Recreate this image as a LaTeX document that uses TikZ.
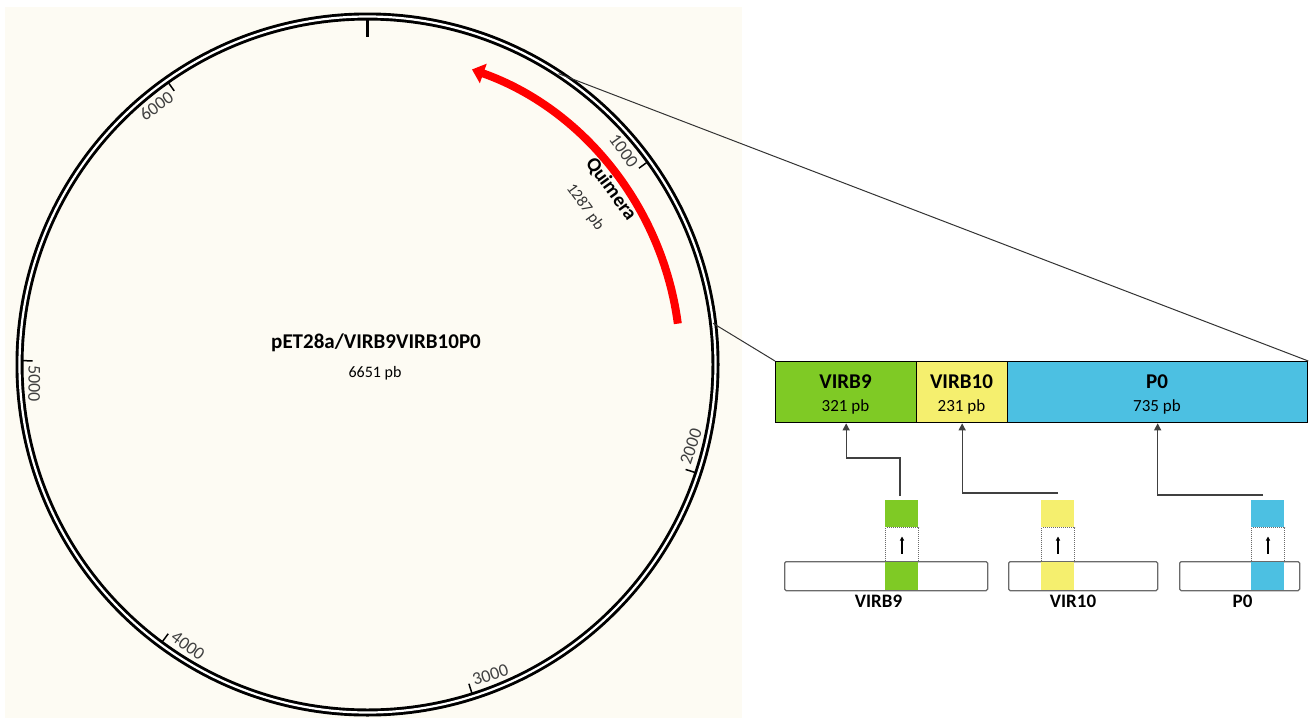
\documentclass[tikz,border=0pt]{standalone}
\usepackage{fontspec}
\setmainfont{Carlito}
\usetikzlibrary{arrows.meta,calc}
\definecolor{cream}{HTML}{FDFBF3}
\definecolor{vgreen}{HTML}{7FCA25}
\definecolor{vyellow}{HTML}{F5EF6E}
\definecolor{vblue}{HTML}{4CC0E2}
\definecolor{ticklbl}{HTML}{404040}
\definecolor{rectgray}{HTML}{6A6A6A}
\begin{document}
\begin{tikzpicture}[x=1pt,y=1pt,
  seg/.style={draw=black,line width=1.3pt,minimum height=61pt,inner sep=0pt,anchor=north west},
  segtxt/.style={font=\fontsize{21}{24}\selectfont\bfseries},
  segsub/.style={font=\fontsize{17}{20}\selectfont},
  ticktxt/.style={font=\fontsize{18}{20}\selectfont,text=ticklbl,inner sep=0pt},
  longrect/.style={draw=rectgray,fill=white,line width=1.3pt,rounded corners=1.5pt,minimum height=29pt,inner sep=0pt,anchor=north west},
  colpart/.style={inner sep=0pt,minimum width=33pt,anchor=north west},
  dotbox/.style={draw=rectgray,densely dotted,line width=1pt,minimum width=33pt,minimum height=34pt,inner sep=0pt,anchor=north west},
  conn/.style={line width=1.2pt,draw=black!75,-{Triangle[length=7pt,width=7pt]}},
  smallarr/.style={line width=1.2pt,-{Triangle[length=4pt,width=4pt]}},
  grplbl/.style={font=\fontsize{19}{21}\selectfont\bfseries},
  zoomline/.style={line width=1pt,draw=black!80}]
\useasboundingbox (0,0) rectangle (1312,-720);
\fill[white] (0,0) rectangle (1312,-720);
\fill[cream] (5,-7) rectangle (742,-718);
\coordinate (C) at (367.5,-364.5);
% plasmid ring
\draw[line width=8pt] (C) circle[radius=348];
\draw[white,line width=2.2pt] (C) circle[radius=348];
% top tick
\draw[line width=2.5pt] ($(C)+(90:345)$) -- ($(C)+(90:328)$);
% ticks and labels
\foreach \p in {1000,2000,3000,4000,5000,6000}{
  \pgfmathsetmacro\ph{90-\p/6651*360}
  \draw[line width=1.5pt] ($(C)+(\ph:345)$) -- ($(C)+(\ph:335)$);
}
\foreach \p in {1000,6000}{
  \pgfmathsetmacro\ph{90-\p/6651*360}
  \pgfmathsetmacro\rt{\ph-90}
  \node[ticktxt,rotate=\rt,anchor=east] (t\p) at ($(C)+(\ph+0.8:333)$) {\p};
}
\foreach \p in {2000,3000,4000,5000}{
  \pgfmathsetmacro\ph{90-\p/6651*360}
  \pgfmathsetmacro\rt{\ph+90}
  \node[ticktxt,rotate=\rt,anchor=west] (t\p) at ($(C)+(\ph+0.8:333)$) {\p};
}
% chimera arrow
\draw[red,line width=8pt,-{Triangle[length=12pt,width=20pt]}] ($(C)+(7.5:313)$) arc[start angle=7.5,end angle=70.5,radius=313];
\node[rotate=-54,font=\fontsize{20}{22}\selectfont\bfseries,inner sep=0pt] (quim) at (611,-189) {Quimera};
\node[rotate=-54,font=\fontsize{16}{18}\selectfont,text=black!80,inner sep=0pt] (qlen) at (585,-207) {1287 pb};
% title
\node[font=\fontsize{21}{24}\selectfont\bfseries] (title) at (376,-343) {pET28a/VIRB9VIRB10P0};
\node[font=\fontsize{16}{18}\selectfont] (size) at (375,-373) {6651 pb};
% construct bar
\node[seg,fill=vgreen,minimum width=141pt] (b9) at (775,-361) {};
\node[seg,fill=vyellow,minimum width=91pt] (b10) at (916,-361) {};
\node[seg,fill=vblue,minimum width=300pt] (bp0) at (1007,-361) {};
\node[segtxt] (l9) at (845.5,-382) {VIRB9};
\node[segsub] (n9) at (845.5,-407) {321 pb};
\node[segtxt] (l10) at (961.5,-382) {VIRB10};
\node[segsub] (n10) at (961.5,-407) {231 pb};
\node[segtxt] (lp0) at (1157,-382) {P0};
\node[segsub] (np0) at (1157,-407) {735 pb};
% zoom lines
\draw[zoomline] ($(C)+(56.7:348)$) -- (bp0.north east);
\draw[zoomline] ($(C)+(6.8:348)$) -- (b9.north west);
% group VIRB9
\node[longrect,minimum width=203pt] (r9) at (784,-561) {};
\node[colpart,fill=vgreen,minimum height=27.7pt] (g9b) at (885,-561.65) {};
\node[dotbox] (d9) at (885,-527) {};
\node[colpart,fill=vgreen,minimum height=27pt] (g9t) at (885,-500) {};
\draw[smallarr] ($(d9.center)+(0,-9)$) -- ($(d9.center)+(0,8)$);
\node[grplbl] (gl9) at (878.5,-601) {VIRB9};
% group VIR10
\node[longrect,minimum width=149pt] (r10) at (1008,-561) {};
\node[colpart,fill=vyellow,minimum height=27.7pt] (g10b) at (1041,-561.65) {};
\node[dotbox] (d10) at (1041,-527) {};
\node[colpart,fill=vyellow,minimum height=27pt] (g10t) at (1041,-500) {};
\draw[smallarr] ($(d10.center)+(0,-9)$) -- ($(d10.center)+(0,8)$);
\node[grplbl] (gl10) at (1073,-601) {VIR10};
% group P0
\node[longrect,minimum width=120pt] (rp0) at (1179,-561) {};
\node[colpart,fill=vblue,minimum height=27.7pt] (gp0b) at (1251,-561.65) {};
\node[dotbox] (dp0) at (1251,-527) {};
\node[colpart,fill=vblue,minimum height=27pt] (gp0t) at (1251,-500) {};
\draw[smallarr] ($(dp0.center)+(0,-9)$) -- ($(dp0.center)+(0,8)$);
\node[grplbl] (glp0) at (1242.5,-601) {P0};
% connectors
\coordinate (c9) at (900,-496);
\coordinate (c10) at (1058,-493);
\coordinate (cp0) at (1263,-495);
\draw[conn] (c9) -- ++(0,38) -| (b9.south);
\draw[conn] (c10) -| (b10.south);
\draw[conn] (cp0) -| (bp0.south);
\end{tikzpicture}
\end{document}
